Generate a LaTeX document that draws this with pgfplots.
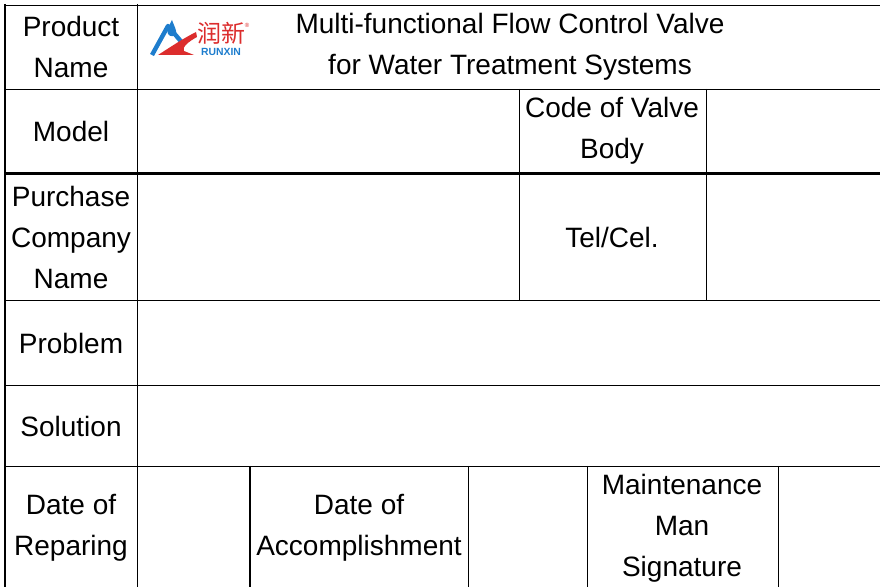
\documentclass[border=0pt]{standalone}
\usepackage{pgfplots}
\pgfplotsset{compat=1.18}
\usepackage{fontspec}
\setmainfont{Liberation Sans}
\newfontfamily\cjk{Noto Sans CJK SC}
\definecolor{logoblue}{RGB}{30,125,205}
\definecolor{logored}{RGB}{220,45,45}
\begin{document}
\begin{tikzpicture}
\begin{axis}[name=ax,
  width=440pt, height=293.5pt, scale only axis,
  xmin=0, xmax=880, ymin=0, ymax=587, y dir=reverse,
  hide axis, clip=false,
  cycle list={{black, solid, line width=1.4pt, mark=none}},
  nodes={font=\fontsize{14}{20.5}\selectfont, align=center, inner sep=0pt}]
% horizontal lines
\addplot coordinates {(4,5) (880,5)};
\addplot coordinates {(4,89) (880,89)};
\addplot coordinates {(4,173.5) (880,173.5)};
\addplot coordinates {(4,300) (880,300)};
\addplot coordinates {(4,385) (880,385)};
\addplot coordinates {(4,466) (880,466)};
% vertical lines
\addplot coordinates {(5,4) (5,587)};
\addplot coordinates {(137.5,4) (137.5,587)};
\addplot coordinates {(519,89) (519,300)};
\addplot coordinates {(706,89) (706,300)};
\addplot coordinates {(250,466) (250,587)};
\addplot coordinates {(468,466) (468,587)};
\addplot coordinates {(587,466) (587,587)};
\addplot coordinates {(778,466) (778,587)};
% texts
\node at (axis cs:71,47) {Product\\Name};
\node at (axis cs:510,47) {Multi-functional Flow Control Valve\\for Water Treatment Systems};
\node at (axis cs:71,131) {Model};
\node at (axis cs:612,131) {Code of Valve\\Body};
\node at (axis cs:71,237) {Purchase\\Company\\Name};
\node at (axis cs:612,237) {Tel/Cel.};
\node at (axis cs:71,343) {Problem};
\node at (axis cs:71,426) {Solution};
\node at (axis cs:71,528) {Date of\\Reparing};
\node at (axis cs:359,528) {Date of\\Accomplishment};
\node at (axis cs:682,528) {Maintenance\\Man\\Signature};
% logo
\draw[logoblue, line width=2.2pt, line join=round] (axis cs:152,55) -- (axis cs:168,26) -- (axis cs:184,45);
\fill[logoblue] (axis cs:172,20) .. controls (axis cs:169,26) and (axis cs:166,30) .. (axis cs:168,34)
  .. controls (axis cs:170,37) and (axis cs:175,37) .. (axis cs:176,34)
  .. controls (axis cs:177,30) and (axis cs:174,26) .. cycle;
\fill[logored] (axis cs:158,55) .. controls (axis cs:172,46) and (axis cs:184,38) .. (axis cs:196,32)
  -- (axis cs:197,37) .. controls (axis cs:188,42) and (axis cs:182,47) .. (axis cs:184,51)
  -- (axis cs:194,55) -- cycle;
\node[logored, font=\cjk\fontsize{12}{12}\selectfont, anchor=center] at (axis cs:221,33) {润新};
\node[logored, font=\fontsize{3}{3}\selectfont] at (axis cs:247,25) {®};
\node[logoblue, font=\bfseries\fontsize{5.2}{6}\selectfont] at (axis cs:221,51.5) {RUNXIN};
\end{axis}
\pgfresetboundingbox
\path[use as bounding box] (ax.south west) rectangle (ax.north east);
\end{tikzpicture}
\end{document}
